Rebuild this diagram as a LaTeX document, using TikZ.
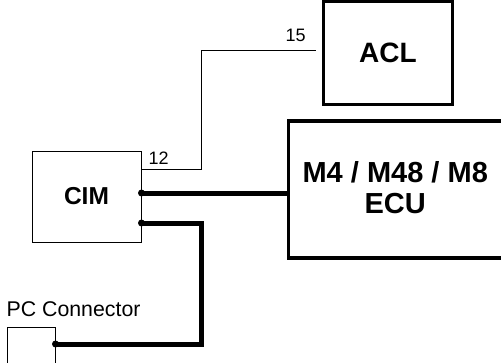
\documentclass[tikz,border=0pt]{standalone}
\usepackage{fontspec}
\setmainfont{Liberation Sans}
\usetikzlibrary{positioning}

\begin{document}
\begin{tikzpicture}[x=1pt, y=-1pt,
	thin box/.style={rectangle,draw,line width=1pt,inner sep=0pt},
	thick box/.style={rectangle,draw,line width=3.5pt,inner sep=0pt},
	big label/.style={font=\fontsize{29}{31}\selectfont\bfseries,align=center},
	pin label/.style={font=\fontsize{18}{18}\selectfont,inner sep=0pt},
	wire/.style={line width=1pt},
	bus/.style={line width=5pt}]
	
	\clip (0,0) rectangle (501,362);
	
	\node[thin box,minimum width=109pt,minimum height=91pt,font=\fontsize{24.5}{24.5}\selectfont\bfseries] (cim) at (86.5,196.5) {CIM};
	\node[thick box,minimum width=300pt,minimum height=137pt] (ecu) [right=145pt of cim, yshift=7pt] {};
	\node[big label] (ecu label) at ([xshift=-43pt,yshift=2pt]ecu.center) {M4 / M48 / M8\\ECU};
	\node[thick box,font=\fontsize{28}{28}\selectfont\bfseries,minimum width=129pt,minimum height=103pt] (acl) [above=13pt of ecu.north west, xshift=101.5pt] {ACL};
	\node[thin box,minimum width=48pt,minimum height=43pt] (pc) at (31,348.5) {};
	\node[font=\fontsize{21.3}{21.3}\selectfont,inner sep=0pt,anchor=south west] (pc label) at ([yshift=10pt]pc.north west) {PC Connector};
	
	\coordinate (cim 12) at ([yshift=27.5pt]cim.east);
	\coordinate (cim ecu) at ([yshift=3.5pt]cim.east);
	\coordinate (cim pc) at ([yshift=-26.5pt]cim.east);
	\coordinate (acl pin) at ([xshift=-6pt,yshift=2.5pt]acl.west);
	\coordinate (pc pin) at ([yshift=4.5pt]pc.east);
	
	\node[pin label,anchor=south west] (pin 12) at ([xshift=7pt,yshift=4pt]cim 12) {12};
	\node[pin label,anchor=south east] (pin 15) at ([xshift=-10pt,yshift=9pt]acl pin) {15};
	
	\draw[wire] (cim 12) -- ++(60,0) |- (acl pin);
	\draw[bus] (cim ecu) -- (cim ecu -| ecu.west);
	\draw[bus] (cim pc) -- ++(60,0) |- (pc pin);
	\foreach \p in {cim ecu, cim pc, pc pin}
	\fill (\p) circle (3.5pt);
\end{tikzpicture}
\end{document}
